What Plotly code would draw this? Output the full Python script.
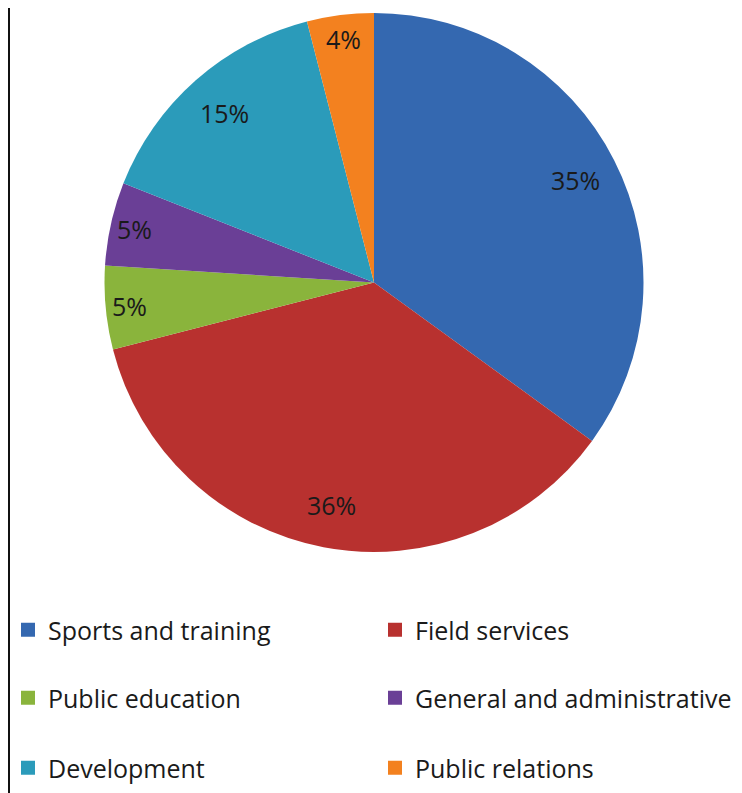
import math
import plotly.graph_objects as go

categories = ["Sports and training", "Field services", "Public education",
              "General and administrative", "Development", "Public relations"]
values = [35, 36, 5, 5, 15, 4]
colors = ["#3468B0", "#B8312F", "#8AB43C", "#6A3F96", "#2B9BBA", "#F3811F"]

W, H = 742, 793
OFF = 8  # page body margin
dom_x = [(104 - OFF) / W, (644 - OFF) / W]
dom_y = [(H - 552 + OFF) / H, (H - 13 + OFF) / H]
FONT = "'Open Sans', sans-serif"

fig = go.Figure()
fig.add_trace(go.Pie(
    labels=categories, values=values, sort=False, direction="clockwise",
    rotation=0, marker=dict(colors=colors, line=dict(width=0)),
    textinfo="none", hoverinfo="label+percent", showlegend=False,
    domain=dict(x=dom_x, y=dom_y),
))

# percentage labels placed inside the slice ends, computed from the data
total = sum(values)
cx = (dom_x[0] + dom_x[1]) / 2 * W
cy = (dom_y[0] + dom_y[1]) / 2 * H
R = min((dom_x[1] - dom_x[0]) * W, (dom_y[1] - dom_y[0]) * H) / 2
cum = 0
for v in values:
    mid = (cum + v / 2) / total * 2 * math.pi
    cum += v
    r = R * (0.84 if v / total > 0.1 else 0.91)
    px = cx + r * math.sin(mid)
    py = cy + r * math.cos(mid)
    fig.add_annotation(x=px / W, y=py / H, xref="paper", yref="paper",
                       xanchor="center", yanchor="middle",
                       text=f"{round(v / total * 100)}%", showarrow=False,
                       font=dict(family=FONT, size=25, color="#1a1a1a"))

# legend: three rows of two entries, via legend-only marker traces
legend_ids = ["legend", "legend2", "legend3"]
for i, (cat, col) in enumerate(zip(categories, colors)):
    fig.add_trace(go.Scatter(
        x=[None], y=[None], mode="markers", name=cat,
        marker=dict(symbol="square", size=14, color=col),
        legend=legend_ids[i // 2], showlegend=True,
    ))

row_y = [630 - OFF, 698 - OFF, 768 - OFF]
leg_common = dict(orientation="h", x=0, xanchor="left", yanchor="middle",
                  entrywidth=322, entrywidthmode="pixels", bgcolor="rgba(0,0,0,0)",
                  font=dict(family=FONT, size=25, color="#1a1a1a"), itemclick=False)
fig.update_layout(
    legend=dict(y=1 - row_y[0] / H, **leg_common),
    legend2=dict(y=1 - row_y[1] / H, **leg_common),
    legend3=dict(y=1 - row_y[2] / H, **leg_common),
)

fig.add_shape(type="line", xref="paper", yref="paper", x0=1 / W, x1=1 / W,
              y0=0, y1=1, line=dict(color="#111111", width=2))

fig.update_layout(
    width=W, height=H, margin=dict(l=0, r=0, t=0, b=0, autoexpand=False),
    paper_bgcolor="white", plot_bgcolor="white",
    xaxis=dict(visible=False), yaxis=dict(visible=False),
)
fig.write_html("out.html")
